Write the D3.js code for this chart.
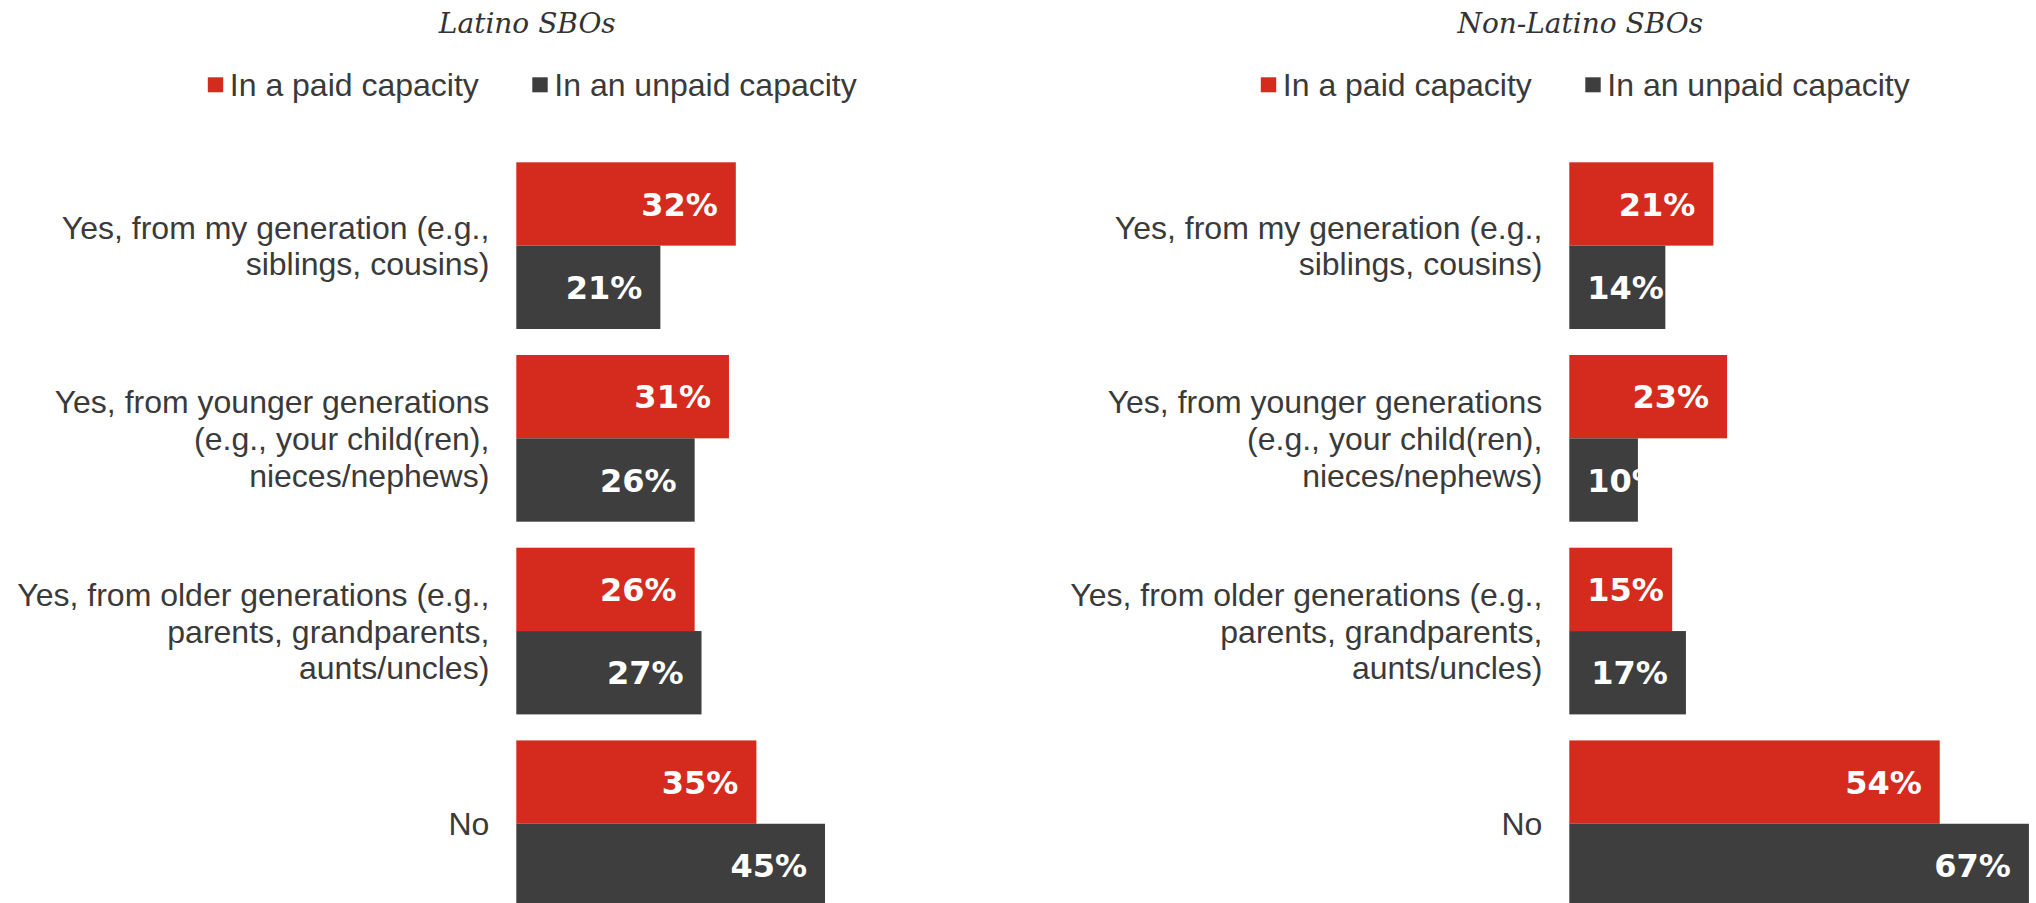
<!DOCTYPE html>
<html>
<head>
<meta charset="utf-8">
<script src="https://cdn.jsdelivr.net/npm/d3@7"></script>
<style>
  html, body { margin: 0; padding: 0; background: #ffffff; }
  svg { display: block; }
</style>
</head>
<body>
<svg id="chart" width="2036" height="903"></svg>
<script>
// Response categories (line breaks mark where the axis label wraps)
const categories = [
  "Yes, from my generation (e.g.,\nsiblings, cousins)",
  "Yes, from younger generations\n(e.g., your child(ren),\nnieces/nephews)",
  "Yes, from older generations (e.g.,\nparents, grandparents,\naunts/uncles)",
  "No"
];

const seriesNames = ["In a paid capacity", "In an unpaid capacity"];
const seriesKeys = ["paid", "unpaid"];

// Share of SBOs (%) by series
const latinoPaid = [32, 31, 26, 35];
const latinoUnpaid = [21, 26, 27, 45];
const nonLatinoPaid = [21, 23, 15, 54];
const nonLatinoUnpaid = [14, 10, 17, 67];

const panelTitles = ["Latino SBOs", "Non-Latino SBOs"];

const colors = { paid: "#D52B1E", unpaid: "#3E3E3E" };
const textColor = "#3A3A3A";

const svg = d3.select("#chart");

const panels = [
  { title: panelTitles[0], axisX: 516.3, paid: latinoPaid, unpaid: latinoUnpaid },
  { title: panelTitles[1], axisX: 1569.3, paid: nonLatinoPaid, unpaid: nonLatinoUnpaid }
];

// Shared vertical layout: one band per category, two bars per band
const y = d3.scaleBand()
  .domain(categories)
  .range([162.3, 907.1])
  .paddingInner(0.135)
  .paddingOuter(0);

const ySub = d3.scaleBand()
  .domain(seriesKeys)
  .range([0, y.bandwidth()])
  .padding(0);

const pxPerPoint = 6.86;
const lineHeight = 36.7;

panels.forEach(p => {
  const x = d3.scaleLinear().domain([0, 100]).range([p.axisX, p.axisX + 100 * pxPerPoint]);
  const g = svg.append("g");

  // Panel title
  g.append("text")
    .attr("x", p.axisX + 11)
    .attr("y", 33)
    .attr("text-anchor", "middle")
    .attr("font-family", "'DejaVu Serif', Georgia, serif")
    .attr("font-style", "italic")
    .attr("font-size", 28)
    .attr("fill", "#333333")
    .text(p.title);

  // Legend
  const legendX = [p.axisX - 308.5, p.axisX + 16];
  seriesKeys.forEach((k, i) => {
    const lg = g.append("g").attr("transform", `translate(${legendX[i]},0)`);
    lg.append("rect")
      .attr("x", 0).attr("y", 77.3)
      .attr("width", 15.4).attr("height", 15)
      .attr("fill", colors[k]);
    lg.append("text")
      .attr("x", 22)
      .attr("y", 95.7)
      .attr("font-family", "'Liberation Sans', Arial, sans-serif")
      .attr("font-size", 32)
      .attr("fill", textColor)
      .text(seriesNames[i]);
  });

  // Category labels
  categories.forEach(c => {
    const lines = c.split("\n");
    const cy = y(c) + y.bandwidth() / 2;
    const t = g.append("text")
      .attr("text-anchor", "end")
      .attr("font-family", "'Liberation Sans', Arial, sans-serif")
      .attr("font-size", 32)
      .attr("fill", textColor);
    lines.forEach((ln, i) => {
      t.append("tspan")
        .attr("x", p.axisX - 27)
        .attr("y", cy + (i - (lines.length - 1) / 2) * lineHeight + 11.5)
        .text(ln);
    });
  });

  // Bars
  const rows = categories.map((c, i) => ({ cat: c, paid: p.paid[i], unpaid: p.unpaid[i] }));
  const groups = g.selectAll("g.cat")
    .data(rows)
    .join("g")
    .attr("class", "cat")
    .attr("transform", d => `translate(0,${y(d.cat)})`);

  const bars = groups.selectAll("g.bar")
    .data(d => seriesKeys.map(k => ({ key: k, value: d[k] })))
    .join("g")
    .attr("class", "bar");

  bars.append("rect")
    .attr("x", x(0))
    .attr("y", d => ySub(d.key))
    .attr("width", d => x(d.value) - x(0))
    .attr("height", ySub.bandwidth())
    .attr("fill", d => colors[d.key]);

  // Value labels, right-aligned inside the bar end
  bars.append("text")
    .attr("y", d => ySub(d.key) + ySub.bandwidth() / 2 + 11.7)
    .attr("text-anchor", "end")
    .attr("font-family", "'DejaVu Sans', Verdana, sans-serif")
    .attr("font-weight", "bold")
    .attr("font-size", 32)
    .attr("fill", "#ffffff")
    .text(d => d.value + "%")
    .attr("x", function(d) {
      const w = this.getComputedTextLength();
      return Math.max(x(d.value) - 18, x(0) + 18 + w);
    });
});
</script>
</body>
</html>
